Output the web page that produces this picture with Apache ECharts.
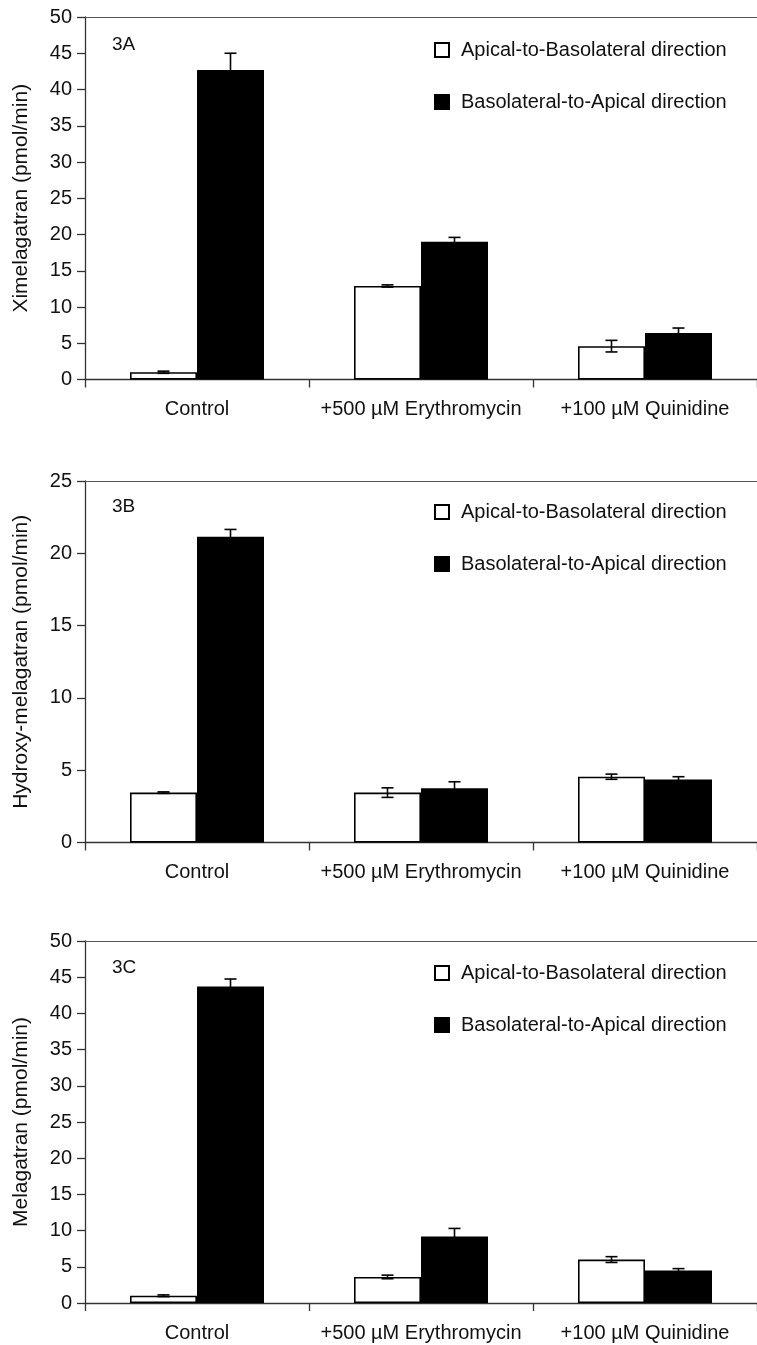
<!DOCTYPE html>
<html>
<head>
<meta charset="utf-8">
<script src="https://cdn.jsdelivr.net/npm/echarts@6/dist/echarts.min.js"></script>
<style>
html,body{margin:0;padding:0;background:#fff;}
#chart{width:757px;height:1345px;}
</style>
</head>
<body>
<div id="chart"></div>
<script>
// ---- data ----
const categories = ['Control', '+500 µM Erythromycin', '+100 µM Quinidine'];
const seriesNames = ['Apical-to-Basolateral direction', 'Basolateral-to-Apical direction'];
const panelLabels = ['3A', '3B', '3C'];
const yTitles = ['Ximelagatran (pmol/min)', 'Hydroxy-melagatran (pmol/min)', 'Melagatran (pmol/min)'];
const yMax = [50, 25, 50];
const yInterval = [5, 5, 5];

// Panel 3A: Ximelagatran
const apicalA = [1.0, 12.9, 4.6];
const apicalErrA = [0.15, 0.15, 0.8];
const basoA = [42.7, 19.0, 6.4];
const basoErrA = [2.3, 0.6, 0.7];

// Panel 3B: Hydroxy-melagatran
const apicalB = [3.45, 3.45, 4.55];
const apicalErrB = [0.05, 0.33, 0.18];
const basoB = [21.15, 3.75, 4.35];
const basoErrB = [0.5, 0.45, 0.2];

// Panel 3C: Melagatran
const apicalC = [1.0, 3.6, 6.0];
const apicalErrC = [0.12, 0.25, 0.4];
const basoC = [43.7, 9.2, 4.5];
const basoErrC = [1.05, 1.1, 0.25];

const panels = [
  {apical: apicalA, apicalErr: apicalErrA, baso: basoA, basoErr: basoErrA},
  {apical: apicalB, apicalErr: apicalErrB, baso: basoB, basoErr: basoErrB},
  {apical: apicalC, apicalErr: apicalErrC, baso: basoC, basoErr: basoErrC}
];

// ---- layout / style ----
const FONT = 'Liberation Sans, Arial, Helvetica, sans-serif';
const gridTops = [17, 481, 941];
const gridHeights = [362.5, 361.5, 362];
const legendTops = [40, 502, 963];
const labelTops = [35, 497, 958];
const BAR_W = 67;
const CAP_W = 12;
const AXIS_COLOR = '#333';

const grids = [], xAxes = [], yAxes = [], series = [], legends = [], titles = [];

function errSeries(g, vals, errs, side) {
  return {
    type: 'custom',
    xAxisIndex: 2 * g,
    yAxisIndex: g,
    z: 10,
    silent: true,
    data: vals.map((v, i) => [i, v, errs[i]]),
    renderItem: function (params, api) {
      const i = api.value(0), v = api.value(1), e = api.value(2);
      const c = api.coord([i, v]);
      const x = c[0] + side * BAR_W / 2;
      const yTop = api.coord([i, v + e])[1];
      const yBot = api.coord([i, v - e])[1];
      const st = {stroke: '#000', lineWidth: 1.6};
      return {
        type: 'group',
        children: [
          {type: 'line', shape: {x1: x, y1: yTop, x2: x, y2: yBot}, style: st},
          {type: 'line', shape: {x1: x - CAP_W / 2, y1: yTop, x2: x + CAP_W / 2, y2: yTop}, style: st},
          {type: 'line', shape: {x1: x - CAP_W / 2, y1: yBot, x2: x + CAP_W / 2, y2: yBot}, style: st}
        ]
      };
    }
  };
}

for (let g = 0; g < 3; g++) {
  grids.push({left: 85, top: gridTops[g], width: 674, height: gridHeights[g], containLabel: false});
  xAxes.push({
    type: 'category', gridIndex: g, data: categories, position: 'bottom',
    axisLine: {show: true, lineStyle: {color: AXIS_COLOR, width: 1.3}},
    axisTick: {show: true, interval: 0, length: 8, lineStyle: {color: AXIS_COLOR, width: 1.3}},
    axisLabel: {interval: 0, color: '#111', fontFamily: FONT, fontSize: 20, margin: 20}
  });
  xAxes.push({
    type: 'category', gridIndex: g, data: categories, position: 'top',
    axisLine: {show: true, lineStyle: {color: '#555', width: 1.2}},
    axisTick: {show: false}, axisLabel: {show: false}
  });
  yAxes.push({
    type: 'value', gridIndex: g, min: 0, max: yMax[g], interval: yInterval[g],
    name: yTitles[g], nameLocation: 'middle', nameRotate: 90, nameGap: 53,
    nameTextStyle: {color: '#111', fontFamily: FONT, fontSize: 21},
    axisLine: {show: true, lineStyle: {color: AXIS_COLOR, width: 1.3}},
    axisTick: {show: true, length: 8, lineStyle: {color: AXIS_COLOR, width: 1.3}},
    axisLabel: {color: '#111', fontFamily: FONT, fontSize: 20, margin: 13},
    splitLine: {show: false}
  });
  const p = panels[g];
  series.push({
    type: 'bar', name: seriesNames[0], xAxisIndex: 2 * g, yAxisIndex: g,
    data: p.apical, barWidth: BAR_W, barGap: '0%',
    itemStyle: {color: '#fff', borderColor: '#000', borderWidth: 1.6}
  });
  series.push({
    type: 'bar', name: seriesNames[1], xAxisIndex: 2 * g, yAxisIndex: g,
    data: p.baso, barWidth: BAR_W, barGap: '0%',
    itemStyle: {color: '#000', borderColor: '#000', borderWidth: 1.6}
  });
  series.push(errSeries(g, p.apical, p.apicalErr, -1));
  series.push(errSeries(g, p.baso, p.basoErr, 1));
  legends.push({
    orient: 'vertical', left: 434, top: legendTops[g], padding: 0,
    itemWidth: 14, itemHeight: 14, itemGap: 32, icon: 'rect',
    data: seriesNames,
    textStyle: {color: '#111', fontFamily: FONT, fontSize: 20, lineHeight: 20, padding: [0, 0, 0, 7]}
  });
  titles.push({
    text: panelLabels[g], left: 112, top: labelTops[g], padding: 0,
    textStyle: {color: '#111', fontFamily: FONT, fontSize: 19, fontWeight: 'normal'}
  });
}

const chart = echarts.init(document.getElementById('chart'), null, {renderer: 'canvas'});
chart.setOption({
  animation: false,
  backgroundColor: '#fff',
  title: titles,
  legend: legends,
  grid: grids,
  xAxis: xAxes,
  yAxis: yAxes,
  series: series
});
</script>
</body>
</html>
